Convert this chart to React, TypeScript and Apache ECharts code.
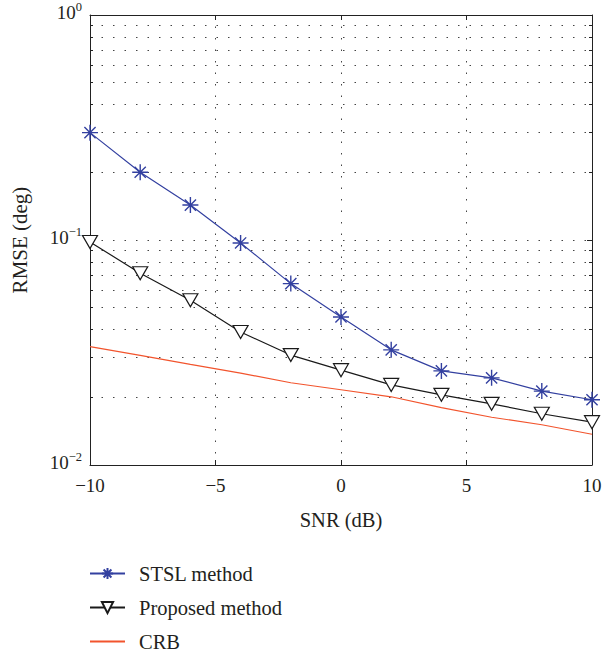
import React, { useEffect, useRef } from "react";
import * as echarts from "echarts";

const snr = [-10, -8, -6, -4, -2, 0, 2, 4, 6, 8, 10];
const stsl = [0.3, 0.2, 0.143, 0.097, 0.064, 0.0455, 0.0325, 0.0262, 0.0244, 0.0213, 0.0195];
const proposed = [0.098, 0.0712, 0.054, 0.039, 0.0308, 0.0264, 0.0227, 0.0205, 0.0187, 0.0169, 0.0155];
const crb = [0.0336, 0.0307, 0.028, 0.0256, 0.0232, 0.0216, 0.0201, 0.018, 0.0163, 0.0151, 0.0137];
const seriesNames = ["STSL method", "Proposed method", "CRB"];

const FONT = "'Liberation Serif', 'Times New Roman', serif";
const TXT = "#231f20";
const BLUE = "#3340a0";
const BLACK = "#1a1a1a";
const RED = "#f2542d";

const asterisk = "path://M0,-10L0,10M-10,0L10,0M-7,-7L7,7M-7,7L7,-7";

const dotted = { type: [1.5, 10] as any, color: "#444", width: 1 };

export default function App() {
  const ref = useRef<HTMLDivElement>(null);
  useEffect(() => {
    if (!ref.current) return;
    const chart = echarts.init(ref.current, undefined, { renderer: "svg" });
    const pair = (arr: number[]) => snr.map((x, i) => [x, arr[i]]);
    const sup = (v: number) => {
      const e = Math.round(Math.log10(v));
      const s = e < 0 ? "\u2212" + Math.abs(e) : String(e);
      return "{b|10}{s|" + s + "}";
    };
    chart.setOption({
      animation: false,
      backgroundColor: "#fff",
      textStyle: { fontFamily: FONT, color: TXT },
      grid: { left: 90, right: 14, top: 15, bottom: 187, containLabel: false },
      legend: {
        orient: "vertical",
        left: 89,
        top: 563,
        height: 150,
        padding: 0,
        itemWidth: 35,
        itemHeight: 14,
        itemGap: 13,
        data: [
          { name: seriesNames[0] },
          { name: seriesNames[1] },
          { name: seriesNames[2], itemStyle: { opacity: 0 } },
        ],
        textStyle: { fontFamily: FONT, fontSize: 20.5, color: TXT, padding: [0, 0, 0, 9] },
      },
      xAxis: [
        {
          type: "value",
          min: -10,
          max: 10,
          interval: 5,
          name: "SNR (dB)",
          nameLocation: "middle",
          nameGap: 44,
          nameTextStyle: { fontFamily: FONT, fontSize: 20.5, color: TXT },
          axisLine: { show: true, onZero: false, lineStyle: { color: "#222", width: 1 } },
          axisTick: { show: true, inside: true, length: 5, lineStyle: { color: "#222" } },
          axisLabel: {
            fontFamily: FONT,
            fontSize: 19,
            color: TXT,
            margin: 11,
            formatter: (v: number) => (v < 0 ? "\u2212" + Math.abs(v) : String(v)),
          },
          splitLine: { show: true, lineStyle: dotted },
        },
        {
          type: "value",
          position: "top",
          min: -10,
          max: 10,
          interval: 5,
          axisLine: { show: true, onZero: false, lineStyle: { color: "#222", width: 1 } },
          axisTick: { show: true, inside: true, length: 5, lineStyle: { color: "#222" } },
          axisLabel: { show: false },
          splitLine: { show: false },
        },
      ],
      yAxis: [
        {
          type: "log",
          logBase: 10,
          min: 0.01,
          max: 1,
          name: "RMSE (deg)",
          nameLocation: "middle",
          nameGap: 60,
          nameTextStyle: { fontFamily: FONT, fontSize: 21, color: TXT },
          axisLine: { show: true, onZero: false, lineStyle: { color: "#222", width: 1 } },
          axisTick: { show: true, inside: true, length: 5, lineStyle: { color: "#222" } },
          minorTick: { show: true, splitNumber: 9, length: 3, lineStyle: { color: "#222" } },
          axisLabel: {
            margin: 8,
            padding: [0, 0, 8, 0],
            formatter: sup,
            rich: {
              b: { fontFamily: FONT, fontSize: 19, color: TXT, lineHeight: 22, verticalAlign: "bottom" },
              s: { fontFamily: FONT, fontSize: 12.5, color: TXT, lineHeight: 22, verticalAlign: "top" },
            },
          },
          splitLine: { show: true, lineStyle: dotted },
          minorSplitLine: { show: true, lineStyle: dotted },
        },
        {
          type: "log",
          logBase: 10,
          position: "right",
          min: 0.01,
          max: 1,
          axisLine: { show: true, onZero: false, lineStyle: { color: "#222", width: 1 } },
          axisTick: { show: true, inside: true, length: 5, lineStyle: { color: "#222" } },
          minorTick: { show: true, splitNumber: 9, length: 3, lineStyle: { color: "#222" } },
          axisLabel: { show: false },
          splitLine: { show: false },
        },
      ],
      series: [
        {
          name: seriesNames[0],
          type: "line",
          data: pair(stsl),
          symbol: asterisk,
          symbolSize: 16,
          showAllSymbol: true,
          lineStyle: { color: BLUE, width: 1.2 },
          itemStyle: { color: "rgba(0,0,0,0)", borderColor: BLUE, borderWidth: 1.4 },
          z: 3,
        },
        {
          name: seriesNames[1],
          type: "line",
          data: pair(proposed),
          symbol: "triangle",
          symbolRotate: 180,
          symbolSize: [15, 13],
          showAllSymbol: true,
          lineStyle: { color: BLACK, width: 1.2 },
          itemStyle: { color: "#fff", borderColor: BLACK, borderWidth: 1.2 },
          z: 3,
        },
        {
          name: seriesNames[2],
          type: "line",
          data: pair(crb),
          symbol: "none",
          lineStyle: { color: RED, width: 1.2 },
          itemStyle: { color: "rgba(0,0,0,0)", borderWidth: 0 },
          z: 2,
        },
      ],
    });
    return () => chart.dispose();
  }, []);
  return <div ref={ref} style={{ width: 606, height: 652, position: "absolute", left: 0, top: 0 }} />;
}
